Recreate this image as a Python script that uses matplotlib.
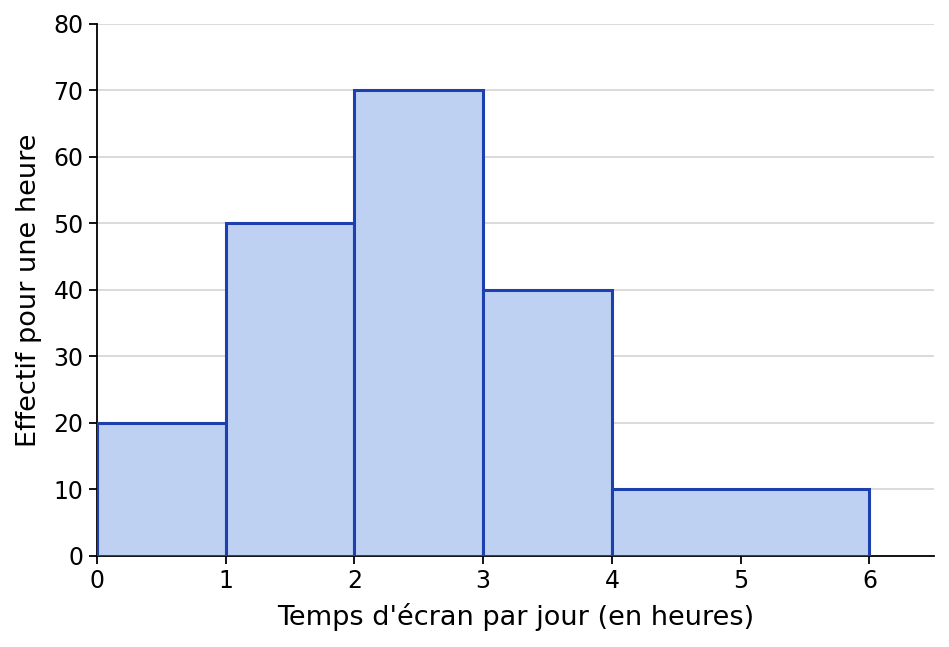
import matplotlib
matplotlib.use("Agg")
import matplotlib.pyplot as plt

# class boundaries (hours) and frequency density (per hour)
bin_left = [0, 1, 2, 3, 4]
bin_width = [1, 1, 1, 1, 2]
density = [20, 50, 70, 40, 10]

fig, ax = plt.subplots(figsize=(9.49, 6.47), dpi=100)
fig.subplots_adjust(left=0.102, right=0.984, top=0.963, bottom=0.141)

ax.bar(bin_left, density, width=bin_width, align='edge',
       color='#bed1f3', edgecolor='#1e40af', linewidth=2.2, zorder=3)

ax.set_xlim(0, 6.5)
ax.set_ylim(0, 80)
ax.set_xticks(range(0, 7))
ax.set_yticks(range(0, 81, 10))
ax.grid(axis='y', color='#d4d4d4', linewidth=1.2, zorder=0)
ax.set_axisbelow(True)
ax.spines['top'].set_visible(False)
ax.spines['right'].set_visible(False)
for s in ['left', 'bottom']:
    ax.spines[s].set_linewidth(1.3)
ax.tick_params(labelsize=17, length=6, width=1.3)
ax.set_xlabel("Temps d'écran par jour (en heures)", fontsize=19.5, labelpad=7.5)
ax.set_ylabel("Effectif pour une heure", fontsize=19.5, labelpad=8.5)

fig.savefig("out.png", dpi=100)
